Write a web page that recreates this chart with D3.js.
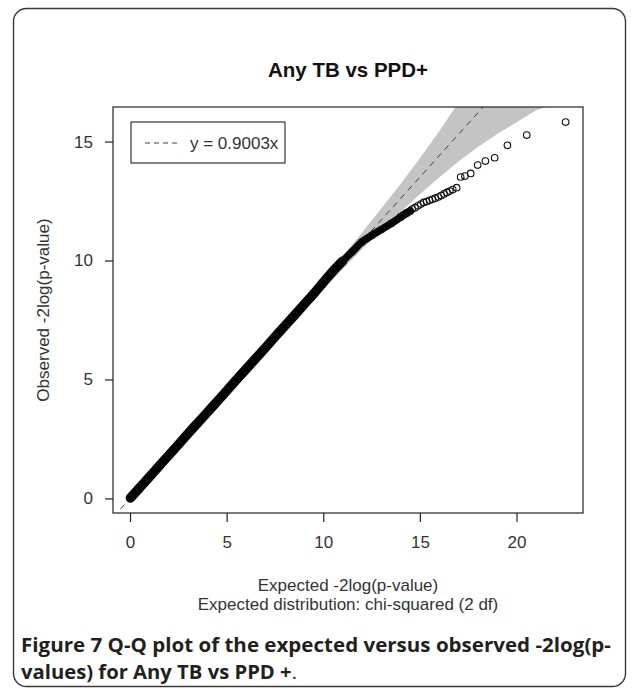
<!DOCTYPE html>
<html>
<head>
<meta charset="utf-8">
<script src="https://cdn.jsdelivr.net/npm/d3@7/dist/d3.min.js"></script>
<style>
  html, body { margin: 0; padding: 0; background: #fff; }
  svg { display: block; }
</style>
</head>
<body>
<svg id="chart" width="635" height="689"></svg>
<script>
// ---------------- data ----------------
const titleText = "Any TB vs PPD+";
const xAxisTitle = "Expected -2log(p-value)";
const xAxisSub = "Expected distribution: chi-squared (2 df)";
const yAxisTitle = "Observed -2log(p-value)";
const legendLabel = "y = 0.9003x";
const fitSlope = 0.9003;
const captionLine1 = "Figure 7 Q-Q plot of the expected versus observed -2log(p-";
const captionLine2 = "values) for Any TB vs PPD +";

const xTicks = [0, 5, 10, 15, 20];
const yTicks = [0, 5, 10, 15];

// heavily over-plotted run of points (appears as a solid thick line)
const coreExpected = [0.02, 0.5, 1, 1.5, 2, 2.5, 3, 3.5, 4, 4.5, 5, 5.5, 6, 6.5, 7, 7.5, 8, 8.5, 9, 9.5, 10, 10.5, 11];
const coreObserved = [0.02, 0.45, 0.9, 1.36, 1.81, 2.26, 2.72, 3.17, 3.62, 4.07, 4.52, 4.98, 5.43, 5.88, 6.33, 6.79, 7.24, 7.69, 8.15, 8.6, 9.08, 9.55, 9.97];

// less dense run
const midExpected = [10.5, 11, 11.5, 12, 12.5, 13, 13.5, 14, 14.5];
const midObserved = [9.55, 9.97, 10.37, 10.78, 11.05, 11.3, 11.55, 11.82, 12.08];

// individually visible points
const tailExpected = [14.0, 14.15, 14.3, 14.45, 14.6, 14.75, 14.9, 15.05, 15.2, 15.35, 15.5, 15.65, 15.8, 15.95, 16.1, 16.25, 16.4, 16.55, 16.7, 16.9,
                      17.11, 17.33, 17.63, 17.99, 18.39, 18.87, 19.53, 20.53, 22.54];
const tailObserved = [11.84, 11.92, 12.0, 12.07, 12.16, 12.22, 12.3, 12.37, 12.44, 12.48, 12.53, 12.57, 12.62, 12.67, 12.73, 12.8, 12.86, 12.92, 12.98, 13.06,
                      13.51, 13.55, 13.66, 14.01, 14.18, 14.32, 14.84, 15.27, 15.82];

// confidence band (grey)
const bandExpected = [5, 7, 8, 9, 10, 11, 12, 13, 14, 15, 16, 17, 18, 19, 20, 21, 22, 22.54];
const bandLower = [4.44, 6.20, 7.07, 7.94, 8.79, 9.63, 10.46, 11.26, 12.04, 12.78, 13.49, 14.16, 14.77, 15.32, 15.81, 16.3, 16.6, 16.69];
const bandUpper = [4.56, 6.40, 7.34, 8.28, 9.23, 10.19, 11.17, 12.19, 13.22, 14.30, 15.43, 16.65, 17.97, 19.44, 21.0, 22.8, 24.5, 25.7];

// ---------------- layout ----------------
const W = 635, H = 689;
const plot = { left: 113, right: 583, top: 107, bottom: 513 };
const FONT = "'Liberation Sans', Arial, Helvetica, sans-serif";

const svg = d3.select("#chart");
svg.append("rect").attr("width", W).attr("height", H).attr("fill", "#fff");

// outer frame
svg.append("rect")
  .attr("x", 13.5).attr("y", 8.5).attr("width", 612).attr("height", 678)
  .attr("rx", 13).attr("ry", 13)
  .attr("fill", "none").attr("stroke", "#3a3a3a").attr("stroke-width", 1.4);

// scales with R-like 4% padding
const allE = coreExpected.concat(midExpected, tailExpected);
const allO = coreObserved.concat(midObserved, tailObserved);
const ex = d3.extent(allE), oy = d3.extent(allO);
const px = (ex[1] - ex[0]) * 0.04, py = (oy[1] - oy[0]) * 0.04;
const x = d3.scaleLinear().domain([ex[0] - px, ex[1] + px]).range([plot.left, plot.right]);
const y = d3.scaleLinear().domain([oy[0] - py, oy[1] + py]).range([plot.bottom, plot.top]);

svg.append("defs").append("clipPath").attr("id", "clip")
  .append("rect").attr("x", plot.left).attr("y", plot.top)
  .attr("width", plot.right - plot.left).attr("height", plot.bottom - plot.top);

const g = svg.append("g").attr("clip-path", "url(#clip)");

// band
const band = bandExpected.map((e, i) => ({ e, lo: bandLower[i], hi: bandUpper[i] }));
g.append("path")
  .datum(band)
  .attr("d", d3.area().x(d => x(d.e)).y0(d => y(d.lo)).y1(d => y(d.hi)))
  .attr("fill", "#c4c4c4");

// fitted line
const xd = x.domain();
g.append("line")
  .attr("x1", x(xd[0])).attr("y1", y(fitSlope * xd[0]))
  .attr("x2", x(xd[1])).attr("y2", y(fitSlope * xd[1]))
  .attr("stroke", "#404040").attr("stroke-width", 1)
  .attr("stroke-dasharray", "6,5");

// points
const core = coreExpected.map((e, i) => ({ e, o: coreObserved[i] }));
const mid = midExpected.map((e, i) => ({ e, o: midObserved[i] }));
const tail = tailExpected.map((e, i) => ({ e, o: tailObserved[i] }));
const line = d3.line().x(d => x(d.e)).y(d => y(d.o)).curve(d3.curveMonotoneX);

g.append("path").datum(core).attr("d", line)
  .attr("fill", "none").attr("stroke", "#000").attr("stroke-width", 9.5)
  .attr("stroke-linecap", "round").attr("stroke-linejoin", "round");
g.append("path").datum(mid).attr("d", line)
  .attr("fill", "none").attr("stroke", "#000").attr("stroke-width", 7.5)
  .attr("stroke-linecap", "round").attr("stroke-linejoin", "round");

g.selectAll("circle.pt").data(core.concat(mid, tail)).enter().append("circle")
  .attr("class", "pt")
  .attr("cx", d => x(d.e)).attr("cy", d => y(d.o)).attr("r", 3.3)
  .attr("fill", "none").attr("stroke", "#111").attr("stroke-width", 1.1);

// box
svg.append("rect")
  .attr("x", plot.left).attr("y", plot.top)
  .attr("width", plot.right - plot.left).attr("height", plot.bottom - plot.top)
  .attr("fill", "none").attr("stroke", "#222").attr("stroke-width", 1.2);

// axes
const xAxis = svg.append("g").attr("transform", `translate(0,${plot.bottom})`)
  .call(d3.axisBottom(x).tickValues(xTicks).tickSize(9).tickPadding(14).tickFormat(d3.format("d")));
const yAxis = svg.append("g").attr("transform", `translate(${plot.left},0)`)
  .call(d3.axisLeft(y).tickValues(yTicks).tickSize(8).tickPadding(12).tickFormat(d3.format("d")));
[xAxis, yAxis].forEach(a => {
  a.select(".domain").remove();
  a.selectAll(".tick line").attr("stroke", "#222").attr("stroke-width", 1.2);
  a.selectAll(".tick text").attr("fill", "#333").style("font-family", FONT).style("font-size", "17px");
});

// titles
svg.append("text").attr("x", (plot.left + plot.right) / 2).attr("y", 77)
  .attr("text-anchor", "middle").style("font-family", FONT).style("font-size", "20.5px")
  .style("font-weight", "bold").attr("fill", "#111").text(titleText);

svg.append("text").attr("x", (plot.left + plot.right) / 2).attr("y", 591)
  .attr("text-anchor", "middle").style("font-family", FONT).style("font-size", "17px")
  .attr("fill", "#333").text(xAxisTitle);
svg.append("text").attr("x", (plot.left + plot.right) / 2).attr("y", 610)
  .attr("text-anchor", "middle").style("font-family", FONT).style("font-size", "17px")
  .attr("fill", "#333").text(xAxisSub);

svg.append("text")
  .attr("transform", `translate(49,${(plot.top + plot.bottom) / 2}) rotate(-90)`)
  .attr("text-anchor", "middle").style("font-family", FONT).style("font-size", "17px")
  .attr("fill", "#333").text(yAxisTitle);

// legend
const lg = svg.append("g");
lg.append("rect").attr("x", 131).attr("y", 122).attr("width", 154).attr("height", 41)
  .attr("fill", "#fff").attr("stroke", "#222").attr("stroke-width", 1.1);
lg.append("line").attr("x1", 145).attr("x2", 178).attr("y1", 143).attr("y2", 143)
  .attr("stroke", "#404040").attr("stroke-width", 1).attr("stroke-dasharray", "5,4");
lg.append("text").attr("x", 190).attr("y", 149)
  .style("font-family", FONT).style("font-size", "17px").attr("fill", "#333").text(legendLabel);

// caption
const CAP = "'Open Sans', 'Noto Sans', sans-serif";
svg.append("text").attr("x", 21).attr("y", 652)
  .attr("textLength", 590).attr("lengthAdjust", "spacingAndGlyphs")
  .style("font-family", CAP).style("font-size", "19px").style("font-weight", "bold").attr("fill", "#231f20")
  .text(captionLine1);
const c2 = svg.append("text").attr("x", 21).attr("y", 679)
  .attr("textLength", 276).attr("lengthAdjust", "spacingAndGlyphs")
  .style("font-family", CAP).style("font-size", "19px").attr("fill", "#231f20");
c2.append("tspan").style("font-weight", "bold").text(captionLine2);
c2.append("tspan").text(".");
</script>
</body>
</html>
